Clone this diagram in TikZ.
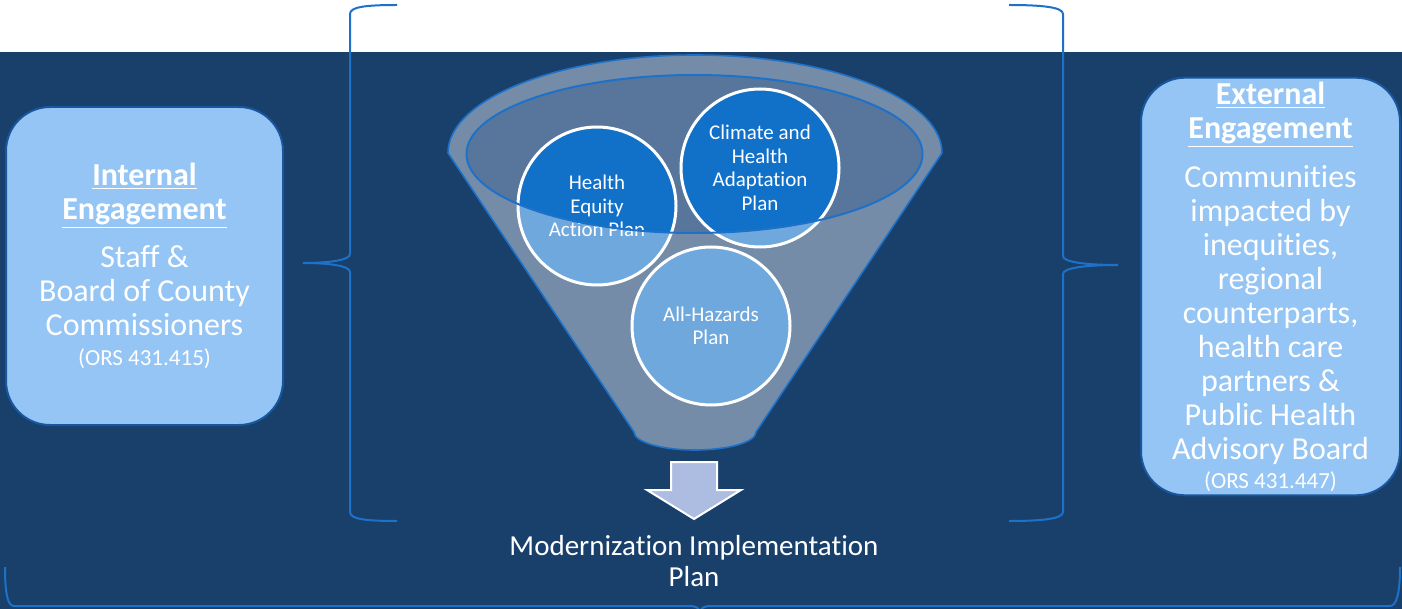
\documentclass[tikz,border=0pt]{standalone}
\usepackage{fontspec}
\setmainfont{Carlito}[Ligatures=NoCommon]
\usetikzlibrary{positioning}

\definecolor{deepblue}{RGB}{25,64,107}
\definecolor{boxfill}{RGB}{148,197,244}
\definecolor{boxline}{RGB}{24,86,160}
\definecolor{bracecol}{RGB}{30,113,200}
\definecolor{funnelfill}{RGB}{116,140,167}
\definecolor{innerfill}{RGB}{88,118,155}
\definecolor{circlight}{RGB}{111,168,220}
\definecolor{circdark}{RGB}{17,112,200}
\definecolor{arrowfill}{RGB}{173,189,225}

\begin{document}
\begin{tikzpicture}[x=0.5pt,y=-0.5pt,
        engage/.style={draw=boxline,line width=1pt,fill=boxfill,rounded corners=22pt,text=white,align=center,font=\fontsize{16}{17}\selectfont,inner sep=2pt},
        plan/.style={circle,draw=white,line width=1.5pt,minimum size=79pt,text=white,align=center,font=\fontsize{10.5}{11.75}\selectfont,inner sep=0pt},
        bracket/.style={draw=bracecol,line width=1pt}]
    \useasboundingbox (0,0) rectangle (1402,609);
    \fill[white] (0,0) rectangle (1402,609);
    \fill[deepblue] (0,52) rectangle (1402,609);

    % braces
    \draw[bracket] (397,5) .. controls (365,5) and (350,7) .. (350,14) -- (350,254)
        .. controls (350,260) and (330,263) .. (303,263)
        .. controls (330,263) and (350,266) .. (350,272) -- (350,512)
        .. controls (350,519) and (365,521) .. (397,521);
    \draw[bracket] (1009,5) .. controls (1041,5) and (1063,7) .. (1063,14) -- (1063,256)
        .. controls (1063,262) and (1085,265) .. (1118,265)
        .. controls (1085,265) and (1063,268) .. (1063,274) -- (1063,512)
        .. controls (1063,519) and (1041,521) .. (1009,521);
    \draw[bracket] (5,567) .. controls (5,595) and (8,606) .. (14,606) -- (690,606)
        .. controls (696,606) and (700,608) .. (700,614)
        .. controls (700,608) and (704,606) .. (710,606) -- (1390,606)
        .. controls (1396,606) and (1400,595) .. (1400,567);

    % engagement boxes
    \node[engage,minimum width=138.5pt,minimum height=159pt] (internal) at (144.5,266)
        {\textbf{\underline{Internal}}\\\textbf{\underline{Engagement}}\\[7pt]Staff \&\\Board of County\\Commissioners\\[-2pt]{\fontsize{11.5}{12}\selectfont(ORS 431.415)}};
    \node[engage,minimum width=129.5pt,minimum height=207.5pt] (external) at (1270.5,286.5)
        {\textbf{\underline{External}}\\\textbf{\underline{Engagement}}\\[7.5pt]Communities\\impacted by\\inequities,\\regional\\counterparts,\\health care\\partners \&\\Public Health\\Advisory Board\\[-2.5pt]{\fontsize{11.5}{12}\selectfont(ORS 431.447)}};

    % funnel
    \draw[bracecol,line width=0.8pt,fill=funnelfill] (448,153) arc[start angle=180,end angle=360,x radius=247,y radius=98]
        -- (756,432) arc[start angle=0,end angle=180,x radius=61,y radius=18] -- cycle;
    \coordinate (mouth) at (694.5,154);
    \fill[innerfill] (mouth) ellipse[x radius=228,y radius=79];

    \coordinate (equity) at (597,206);
    \coordinate (climate) at (760,168);
    \coordinate (hazards) at (711,326);
    \foreach \c in {equity,climate,hazards}
        \fill[circlight] (\c) circle[radius=80];
    \begin{scope}
        \clip (mouth) ellipse[x radius=228,y radius=79];
        \foreach \c in {equity,climate,hazards}
            \fill[circdark] (\c) circle[radius=80];
    \end{scope}
    \node[plan] (equityplan) at (equity) {Health\\Equity\\Action Plan};
    \node[plan] (climateplan) at (climate) {Climate and\\Health\\Adaptation\\Plan};
    \node[plan] (hazardsplan) at (hazards) {All-Hazards\\Plan};
    \draw[bracecol,line width=1pt] (mouth) ellipse[x radius=228,y radius=79];

    % arrow and result
    \draw[white,line width=1pt,fill=arrowfill] (671,462) -- (717,462) -- (717,490) -- (741,490)
        -- (694,519) -- (647,490) -- (671,490) -- cycle;
    \node[text=white,align=center,font=\fontsize{14.5}{15.5}\selectfont] (mip) at (694,561)
        {Modernization Implementation\\Plan};
\end{tikzpicture}
\end{document}
